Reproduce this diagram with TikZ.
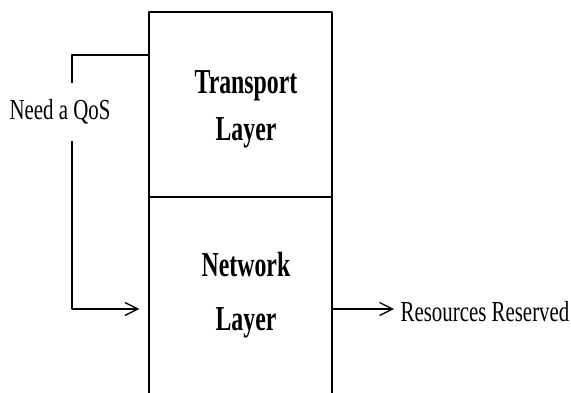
\documentclass[tikz,border=0pt]{standalone}
\usepackage{fontspec}
\setmainfont{Liberation Serif}[FakeStretch=0.72]
\newfontfamily\layerfont{Liberation Serif}[FakeStretch=0.68]
\usetikzlibrary{arrows.meta}
\begin{document}
\begin{tikzpicture}[x=1pt,y=-1pt,line width=1.3pt,line join=round,
	layer/.style={draw,rectangle,minimum width=183pt,inner sep=0pt},
	layertext/.style={align=center,font=\layerfont\fontsize{35}{47}\selectfont\bfseries},
	label/.style={font=\fontsize{29}{34}\selectfont},
	>={Straight Barb[length=13pt,width=13pt]}]
	\useasboundingbox (0,0) rectangle (571,392);
	
	\node[layer,minimum height=185pt] (transport) at (240.5,104.5) {};
	\node[layer,minimum height=224pt] (network) at (240.5,309) {};
	\node[layertext] (transtext) at (246,109) {Transport\\Layer};
	\node[layertext,font=\layerfont\fontsize{35}{54}\selectfont\bfseries] (nettext) at (246,295) {Network\\Layer};
	
	\node[label,minimum height=57pt,inner sep=0pt] (qos) at (60,112) {Need a QoS};
	\node[label,anchor=west,inner xsep=6pt] (res) at (394,312) {Resources Reserved};
	
	\coordinate (bend) at (72,55);
	\draw (transport.west |- bend) -- (bend) -- (bend |- qos.north);
	\draw[->,shorten >=9pt] (bend |- qos.south) |- (network.west);
	\draw[->] (network.east) -- (res.west |- network.east);
\end{tikzpicture}
\end{document}
